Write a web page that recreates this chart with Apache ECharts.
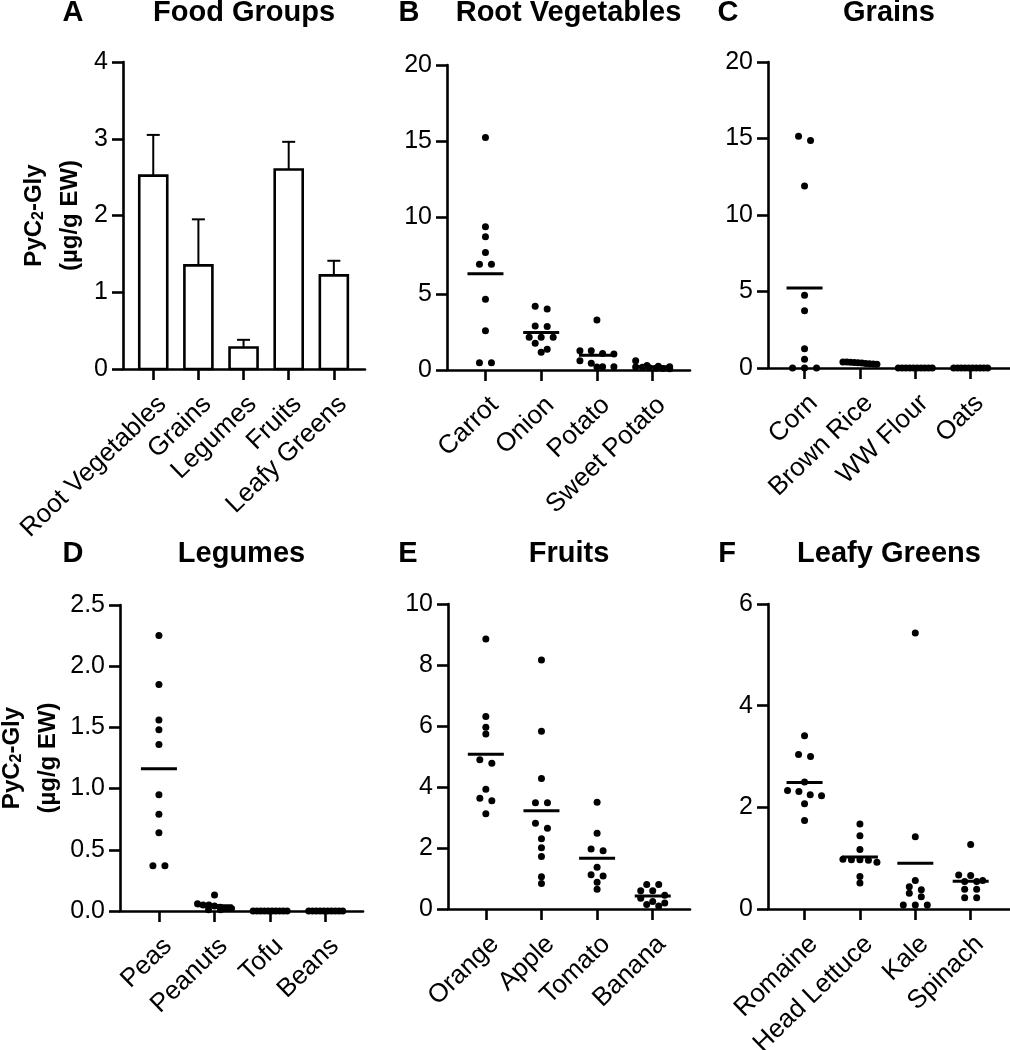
<!DOCTYPE html>
<html><head><meta charset="utf-8">
<script src="https://cdn.jsdelivr.net/npm/echarts@6/dist/echarts.min.js"></script>
<style>html,body{margin:0;padding:0;background:#fff}#c{width:1010px;height:1050px}</style>
</head><body><div id="c"></div>
<script>
// ---------- DATA ----------
const panelLetters = ['A', 'B', 'C', 'D', 'E', 'F'];
const panelTitles = ['Food Groups', 'Root Vegetables', 'Grains', 'Legumes', 'Fruits', 'Leafy Greens'];

// Panel A (bar means with upward SEM error bars)
const groupCategories = ['Root Vegetables', 'Grains', 'Legumes', 'Fruits', 'Leafy Greens'];
const groupMeans = [2.52, 1.35, 0.28, 2.60, 1.22];
const groupErrors = [0.53, 0.60, 0.10, 0.36, 0.19];

// Panel B
const rootCategories = ['Carrot', 'Onion', 'Potato', 'Sweet Potato'];
const carrot = [15.25, 9.39, 8.73, 7.70, 6.94, 6.94, 4.64, 2.58, 0.48, 0.48];
const onion = [4.18, 4.00, 2.89, 2.85, 2.15, 2.15, 2.15, 1.75, 1.36, 1.16];
const potato = [3.28, 1.27, 1.27, 1.09, 1.05, 0.61, 0.44, 0.22, 0.22, 0.20];
const sweetPotato = [0.60, 0.30, 0.25, 0.22, 0.20, 0.18, 0.15, 0.12, 0.10, 0.08];

// Panel C
const grainCategories = ['Corn', 'Brown Rice', 'WW Flour', 'Oats'];
const corn = [15.14, 14.87, 11.89, 4.75, 3.75, 1.26, 0.57, 0, 0, 0];
const brownRice = [0.40, 0.40, 0.38, 0.36, 0.35, 0.32, 0.30, 0.28, 0.26, 0.25];
const wwFlour = [0, 0, 0, 0, 0, 0, 0, 0, 0, 0];
const oats = [0, 0, 0, 0, 0, 0, 0, 0, 0, 0];

// Panel D
const legumeCategories = ['Peas', 'Peanuts', 'Tofu', 'Beans'];
const peas = [2.25, 1.85, 1.56, 1.48, 1.36, 0.95, 0.79, 0.64, 0.37, 0.37];
const peanuts = [0.13, 0.06, 0.05, 0.05, 0.04, 0.03, 0.02, 0.02, 0.01, 0.01];
const tofu = [0, 0, 0, 0, 0, 0, 0, 0, 0, 0];
const beans = [0, 0, 0, 0, 0, 0, 0, 0, 0, 0];

// Panel E
const fruitCategories = ['Orange', 'Apple', 'Tomato', 'Banana'];
const orange = [8.85, 6.31, 5.96, 5.74, 4.89, 4.78, 3.93, 3.63, 3.55, 3.12];
const apple = [8.16, 5.83, 4.28, 3.48, 3.48, 2.81, 2.65, 2.30, 2.01, 1.72, 1.06, 0.84];
const tomato = [3.50, 2.48, 1.97, 1.91, 1.37, 1.12, 1.08, 0.88, 0.65];
const banana = [0.80, 0.80, 0.60, 0.60, 0.45, 0.35, 0.25, 0.20, 0.15, 0.10];

// Panel F
const leafyCategories = ['Romaine', 'Head Lettuce', 'Kale', 'Spinach'];
const romaine = [3.41, 3.04, 3.00, 2.50, 2.33, 2.31, 2.25, 2.23, 2.07, 1.74];
const headLettuce = [1.67, 1.44, 1.17, 0.98, 0.97, 0.97, 0.96, 0.92, 0.64, 0.51];
const kale = [5.43, 1.42, 0.56, 0.44, 0.38, 0.31, 0.24, 0.08, 0.08, 0.08];
const spinach = [1.27, 0.67, 0.66, 0.56, 0.54, 0.54, 0.39, 0.39, 0.22, 0.22];

// y-axis ranges / tick steps
const yMaxes = [4, 20, 20, 2.5, 10, 6];
const ySteps = [1, 5, 5, 0.5, 2, 2];
const yDecimals = [0, 0, 0, 1, 0, 0];

// ---------- LAYOUT / STYLE ----------
const FONT = '"Liberation Sans", Arial, Helvetica, sans-serif';
const LAYOUT = [
  {left: 123, top: 62, width: 242, height: 307, xmin: -0.67, xmax: 4.69},
  {left: 447, top: 65, width: 243, height: 305, xmin: -0.69, xmax: 3.67},
  {left: 768, top: 62, width: 242, height: 306, xmin: -0.66, xmax: 3.71},
  {left: 120, top: 605, width: 243, height: 306, xmin: -0.70, xmax: 3.67},
  {left: 448, top: 604, width: 242, height: 305, xmin: -0.68, xmax: 3.67},
  {left: 768, top: 604, width: 242, height: 305, xmin: -0.66, xmax: 3.71}
];
const LETTER_X = [73, 409, 728, 73, 408, 727];
const ROW_Y = [13, 13, 13, 554, 554, 554];
const TICK_FS = 25, LABEL_FS = 26, TITLE_FS = 29;
const ROW_PX = 6, DOT_GAP = 12, SPREAD = 34, DOT = 7, MEAN_HALF = 18;

const scatterPanels = [
  null,
  {cats: rootCategories, vals: [carrot, onion, potato, sweetPotato]},
  {cats: grainCategories, vals: [corn, brownRice, wwFlour, oats]},
  {cats: legumeCategories, vals: [peas, peanuts, tofu, beans]},
  {cats: fruitCategories, vals: [orange, apple, tomato, banana]},
  {cats: leafyCategories, vals: [romaine, headLettuce, kale, spinach]}
];

const axisLine = {color: '#000', width: 2.6};
const mean = a => a.reduce((s, v) => s + v, 0) / a.length;

// column-scatter layout: rows of near-equal values spread horizontally
function swarm(values, catIdx, L, yMax) {
  const pxY = L.height / yMax;
  const pxX = L.width / (L.xmax - L.xmin);
  const sorted = values.slice().sort((a, b) => b - a);
  const rows = [];
  let cur = null;
  for (const v of sorted) {
    if (cur && (cur.start - v) * pxY < ROW_PX) cur.items.push(v);
    else { cur = {start: v, items: [v]}; rows.push(cur); }
  }
  const out = [];
  rows.forEach(r => {
    const n = r.items.length;
    const s = n > 1 ? Math.min(DOT_GAP, SPREAD / (n - 1)) : 0;
    r.items.forEach((v, k) => out.push([catIdx + (k - (n - 1) / 2) * s / pxX, v]));
  });
  return out;
}

const grids = [], xAxes = [], yAxes = [], series = [], graphics = [];
const yName = '{b|PyC}{s|2}{b|-Gly}\n{b|(µg/g EW)}';
const yNameRich = {
  b: {fontFamily: FONT, fontWeight: 'bold', fontSize: 24, lineHeight: 36, color: '#000'},
  s: {fontFamily: FONT, fontWeight: 'bold', fontSize: 16, lineHeight: 16, padding: [10, 0, 0, 0], color: '#000'}
};

LAYOUT.forEach((L, i) => {
  grids.push({left: L.left, top: L.top, width: L.width, height: L.height,
    containLabel: false, outerBoundsMode: 'none'});
  const cats = i === 0 ? groupCategories : scatterPanels[i].cats;
  const idx = cats.map((c, k) => k);
  xAxes.push({
    type: 'value', gridIndex: i, min: L.xmin, max: L.xmax,
    axisLine: {show: true, onZero: false, lineStyle: axisLine},
    axisTick: {show: true, length: 11, customValues: idx, lineStyle: axisLine},
    axisLabel: {
      customValues: idx, rotate: 44, margin: 22, verticalAlign: 'top', color: '#000',
      fontFamily: FONT, fontSize: LABEL_FS,
      formatter: v => cats[Math.round(v)]
    },
    splitLine: {show: false}
  });
  const y = {
    type: 'value', gridIndex: i, min: 0, max: yMaxes[i], interval: ySteps[i],
    axisLine: {show: true, onZero: false, lineStyle: axisLine},
    axisTick: {show: true, length: 11, lineStyle: axisLine},
    axisLabel: {color: '#000', fontFamily: FONT, fontSize: TICK_FS, margin: 15,
      formatter: v => v.toFixed(yDecimals[i])},
    splitLine: {show: false}
  };
  if (i === 0 || i === 3) {
    y.name = yName;
    y.nameLocation = 'middle';
    y.nameRotate = 90;
    y.nameGap = i === 0 ? 35 : 54;
    y.nameTextStyle = {rich: yNameRich};
  }
  yAxes.push(y);

  graphics.push({type: 'text', x: LETTER_X[i], y: ROW_Y[i], silent: true,
    style: {text: panelLetters[i], font: 'bold ' + TITLE_FS + 'px ' + FONT, fill: '#000',
      align: 'center', verticalAlign: 'middle', textAlign: 'center', textVerticalAlign: 'middle'}});
  graphics.push({type: 'text', x: L.left + L.width / 2, y: ROW_Y[i], silent: true,
    style: {text: panelTitles[i], font: 'bold ' + TITLE_FS + 'px ' + FONT, fill: '#000',
      align: 'center', verticalAlign: 'middle', textAlign: 'center', textVerticalAlign: 'middle'}});

  if (i === 0) {
    series.push({
      type: 'custom', xAxisIndex: 0, yAxisIndex: 0, silent: true, z: 3,
      data: groupMeans.map((m, k) => [k, m, groupErrors[k]]),
      renderItem: (p, api) => {
        const k = api.value(0), m = api.value(1), e = api.value(2);
        const b = api.coord([k, 0]), t = api.coord([k, m]), et = api.coord([k, m + e]);
        const bw = 28, cap = 6.5;
        return {type: 'group', children: [
          {type: 'line', shape: {x1: t[0], y1: t[1], x2: et[0], y2: et[1]}, style: {stroke: '#000', lineWidth: 2}},
          {type: 'line', shape: {x1: et[0] - cap, y1: et[1], x2: et[0] + cap, y2: et[1]}, style: {stroke: '#000', lineWidth: 2}},
          {type: 'rect', shape: {x: b[0] - bw / 2, y: t[1], width: bw, height: b[1] - t[1]},
            style: {fill: '#fff', stroke: '#000', lineWidth: 2.6}}
        ]};
      }
    });
  } else {
    const P = scatterPanels[i];
    let pts = [];
    P.vals.forEach((arr, k) => { pts = pts.concat(swarm(arr, k, L, yMaxes[i])); });
    series.push({
      type: 'scatter', xAxisIndex: i, yAxisIndex: i, silent: true, z: 4,
      symbol: 'circle', symbolSize: DOT, itemStyle: {color: '#000', opacity: 1},
      data: pts, clip: false
    });
    series.push({
      type: 'custom', xAxisIndex: i, yAxisIndex: i, silent: true, z: 5,
      data: P.vals.map((arr, k) => [k, mean(arr)]),
      renderItem: (p, api) => {
        const c = api.coord([api.value(0), api.value(1)]);
        return {type: 'line', shape: {x1: c[0] - MEAN_HALF, y1: c[1], x2: c[0] + MEAN_HALF, y2: c[1]},
          style: {stroke: '#000', lineWidth: 3}};
      }
    });
  }
});

const chart = echarts.init(document.getElementById('c'), null, {renderer: 'canvas'});
chart.setOption({
  backgroundColor: '#fff',
  animation: false,
  grid: grids, xAxis: xAxes, yAxis: yAxes, series: series,
  graphic: {elements: graphics}
});
</script></body></html>
